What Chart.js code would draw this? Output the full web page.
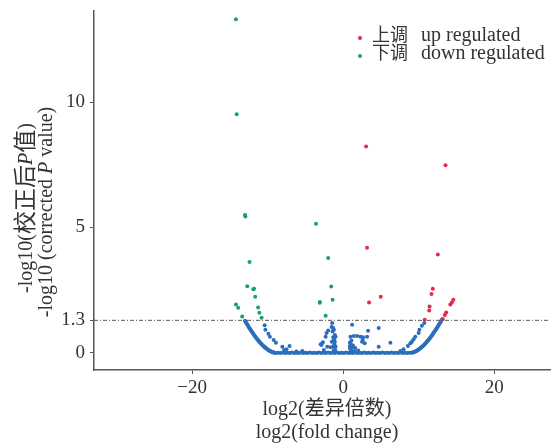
<!DOCTYPE html>
<html>
<head>
<meta charset="utf-8">
<script src="https://cdn.jsdelivr.net/npm/chart.js@4.4.0/dist/chart.umd.min.js"></script>
<style>
  html, body { margin: 0; padding: 0; background: #fff; }
  canvas { display: block; }
</style>
</head>
<body>
<canvas id="volcano" width="554" height="447"></canvas>
<script>
// Volcano plot data
const xTicks = [-20, 0, 20];
const yTicks = [0, 1.3, 5, 10];
const cutoff = 1.3;

// up regulated (red)
const upX = [3.04, 13.56, 3.17, 12.54, 3.43, 4.98, 11.88, 11.7, 11.45, 11.4, 14.6, 14.4, 14.2, 13.65, 13.47, 13.2, 10.8];
const upY = [8.23, 7.48, 4.19, 3.92, 2.01, 2.24, 2.56, 2.35, 1.85, 1.69, 2.12, 2.01, 1.93, 1.61, 1.51, 1.35, 1.32];

// down regulated (green)
const downX = [-14.2, -14.1, -13.0, -12.95, -12.4, -12.7, -11.9, -11.8, -11.65, -14.2, -13.9, -11.26, -11.1, -10.8, -13.37,
               -3.6, -1.98, -1.58, -3.08, -3.1, -1.4, -2.32];
const downY = [13.3, 9.51, 5.5, 5.44, 3.62, 2.66, 2.54, 2.56, 2.24, 1.93, 1.80, 1.81, 1.60, 1.40, 1.45,
               5.15, 3.78, 2.65, 2.03, 2.0, 2.12, 1.48];

// not significant (blue): left edge of the U
const leftX = [-13.0, -12.9, -12.8, -12.7, -12.6, -12.5, -12.4, -12.3, -12.2, -12.1, -12.0, -11.9, -11.8, -11.7, -11.6,
               -11.5, -11.4, -11.3, -11.2, -11.1, -11.0, -10.9, -10.8, -10.7, -10.6, -10.5, -10.4, -10.3, -10.2, -10.1,
               -10.0, -9.9, -9.8, -9.7, -9.6, -9.5, -9.4, -9.3, -9.2, -9.1];
const leftY = [1.28, 1.23, 1.18, 1.13, 1.08, 1.03, 0.98, 0.94, 0.89, 0.85, 0.80, 0.76, 0.72, 0.68, 0.64,
               0.60, 0.56, 0.52, 0.49, 0.45, 0.42, 0.38, 0.35, 0.32, 0.29, 0.26, 0.24, 0.21, 0.19, 0.16,
               0.14, 0.12, 0.10, 0.08, 0.07, 0.05, 0.04, 0.03, 0.02, 0.01];

// right edge of the U
const rightX = [9.1, 9.2, 9.3, 9.4, 9.5, 9.6, 9.7, 9.8, 9.9, 10.0, 10.1, 10.2, 10.3, 10.4, 10.5,
                10.6, 10.7, 10.8, 10.9, 11.0, 11.1, 11.2, 11.3, 11.4, 11.5, 11.6, 11.7, 11.8, 11.9, 12.0,
                12.1, 12.2, 12.3, 12.4, 12.5, 12.6, 12.7, 12.8, 12.9, 13.0, 13.1];
const rightY = [0.01, 0.02, 0.03, 0.04, 0.05, 0.07, 0.08, 0.10, 0.12, 0.14, 0.16, 0.19, 0.21, 0.24, 0.26,
                0.29, 0.32, 0.35, 0.38, 0.42, 0.45, 0.49, 0.52, 0.56, 0.60, 0.64, 0.68, 0.72, 0.76, 0.80,
                0.85, 0.89, 0.94, 0.98, 1.03, 1.08, 1.13, 1.18, 1.23, 1.28, 1.33];

// flat bottom of the U
const baseX = [-8.9, -8.6, -8.3, -8.0, -7.7, -7.4, -7.1, -6.8, -6.5, -6.2, -5.9, -5.6, -5.3, -5.0, -4.7,
               -4.4, -4.1, -3.8, -3.5, -3.2, -2.9, -2.6, -2.3, -2.0, -1.7, -1.4, -1.1, -0.8, -0.5, -0.2,
               0.1, 0.4, 0.7, 1.0, 1.3, 1.6, 1.9, 2.2, 2.5, 2.8, 3.1, 3.4, 3.7, 4.0, 4.3,
               4.6, 4.9, 5.2, 5.5, 5.8, 6.1, 6.4, 6.7, 7.0, 7.3, 7.6, 7.9, 8.2, 8.5, 8.8];
const baseY = [0.0, 0.01, 0.0, 0.02, 0.0, 0.01, 0.0, 0.02, 0.0, 0.01, 0.0, 0.02, 0.0, 0.01, 0.0,
               0.02, 0.0, 0.01, 0.0, 0.02, 0.0, 0.01, 0.0, 0.02, 0.0, 0.01, 0.0, 0.02, 0.0, 0.01,
               0.0, 0.02, 0.0, 0.01, 0.0, 0.02, 0.0, 0.01, 0.0, 0.02, 0.0, 0.01, 0.0, 0.02, 0.0,
               0.01, 0.0, 0.02, 0.0, 0.01, 0.0, 0.02, 0.0, 0.01, 0.0, 0.02, 0.0, 0.01, 0.0, 0.01];

// scattered points inside the U
const scatterX = [-10.4, -10.3, -9.9, -9.7, -9.2, -8.9, -8.05, -7.1, -7.5, -7.8, -6.2, -5.4,
                  -1.45, -1.53, -1.32, -1.23, -1.98, -2.2, -2.32, -1.1, -1.0, -1.32, -2.68, -2.98, -2.85, -1.1,
                  -2.1, -1.32, -1.66, -2.55, -1.0, -1.05, -1.2, -1.15, -1.4, -1.25, -1.5,
                  1.19, 0.97, 1.41, 1.85, 2.3, 2.64, 2.6, 2.5, 2.86, 3.3, 3.17, 4.71, 4.71, 6.26,
                  0.88, 0.88, 1.0, 1.1, 1.3, 1.6, 2.0, 1.2, 0.95, 1.5, 0.9, 1.05, 1.25,
                  10.75, 10.43, 10.1, 10.0, 9.55, 9.33, 9.1, 8.9, 8.58, 8.0, 7.57];
const scatterY = [1.1, 0.92, 0.76, 0.65, 0.52, 0.41, 0.25, 0.28, 0.15, 0.12, 0.06, 0.08,
                  1.19, 1.03, 0.99, 0.92, 0.89, 0.79, 0.65, 0.72, 0.65, 0.63, 0.43, 0.35, 0.32, 0.45,
                  0.25, 0.25, 0.23, 0.12, 0.25, 0.12, 0.55, 0.35, 0.85, 0.1, 0.45,
                  1.12, 0.65, 0.68, 0.68, 0.65, 0.63, 0.52, 0.45, 0.39, 0.88, 0.65, 0.99, 0.25, 0.41,
                  0.41, 0.28, 0.15, 0.5, 0.3, 0.2, 0.1, 0.08, 0.05, 0.05, 0.2, 0.35, 0.22,
                  1.19, 1.08, 0.92, 0.79, 0.65, 0.55, 0.45, 0.39, 0.28, 0.15, 0.08];

const SERIF = '"Liberation Serif", "Noto Sans CJK SC", serif';
const TEXT = '#333';
const RED = '#e8284a';
const GREEN = '#1b9e77';
const BLUE = '#2a6ebb';

function toPoints(xs, ys) {
    return xs.map((x, i) => ({ x: x, y: ys[i] }));
}

const nsPoints = [].concat(
    toPoints(leftX, leftY),
    toPoints(rightX, rightY),
    toPoints(baseX, baseY),
    toPoints(scatterX, scatterY)
);

// draw a line of text made of runs [text, italic, size], centred on x
function drawRuns(ctx, runs, x, y) {
    const fontOf = r => (r[1] ? 'italic ' : '') + r[2] + 'px ' + SERIF;
    let total = 0;
    runs.forEach(r => {
        ctx.font = fontOf(r);
        total += ctx.measureText(r[0]).width;
    });
    let cx = x - total / 2;
    runs.forEach(r => {
        ctx.font = fontOf(r);
        ctx.fillText(r[0], cx, y);
        cx += ctx.measureText(r[0]).width;
    });
}

const decorations = {
    id: 'decorations',
    beforeDatasetsDraw(chart) {
        const ctx = chart.ctx;
        const area = chart.chartArea;
        const y = chart.scales.y.getPixelForValue(cutoff);
        ctx.save();
        ctx.strokeStyle = '#555';
        ctx.lineWidth = 1;
        ctx.setLineDash([4, 2, 1, 2]);
        ctx.beginPath();
        ctx.moveTo(area.left, y);
        ctx.lineTo(area.right, y);
        ctx.stroke();
        ctx.restore();
    },
    afterDraw(chart) {
        const ctx = chart.ctx;
        ctx.save();
        ctx.fillStyle = TEXT;
        ctx.textAlign = 'left';
        ctx.textBaseline = 'middle';

        // x axis title
        drawRuns(ctx, [['log2(差异倍数)', false, 20]], 327, 410);
        drawRuns(ctx, [['log2(fold change)', false, 20]], 327, 433);

        // y axis title (rotated)
        ctx.save();
        ctx.translate(27, 208);
        ctx.rotate(-Math.PI / 2);
        drawRuns(ctx, [['-log10(', false, 20], ['校正后', false, 23], ['P', true, 20], ['值', false, 23], [')', false, 20]], 0, 0);
        ctx.restore();
        ctx.save();
        ctx.translate(47, 212);
        ctx.rotate(-Math.PI / 2);
        drawRuns(ctx, [['-log10 (corrected ', false, 20], ['P', true, 20], [' value)', false, 20]], 0, 0);
        ctx.restore();

        // legend
        const items = [['上调', 'up regulated', RED, 38], ['下调', 'down regulated', GREEN, 56]];
        items.forEach(it => {
            ctx.fillStyle = it[2];
            ctx.beginPath();
            ctx.arc(360, it[3], 2, 0, Math.PI * 2);
            ctx.fill();
            ctx.fillStyle = TEXT;
            ctx.font = '18px ' + SERIF;
            ctx.fillText(it[0], 372, it[3] - 2);
            ctx.font = '20px ' + SERIF;
            ctx.fillText(it[1], 421, it[3] - 2);
        });
        ctx.restore();
    }
};

const ctx = document.getElementById('volcano').getContext('2d');
new Chart(ctx, {
    type: 'scatter',
    data: {
        datasets: [
            { label: 'up regulated', data: toPoints(upX, upY), backgroundColor: RED, pointRadius: 2, borderWidth: 0 },
            { label: 'down regulated', data: toPoints(downX, downY), backgroundColor: GREEN, pointRadius: 2, borderWidth: 0 },
            { label: 'not significant', data: nsPoints, backgroundColor: BLUE, pointRadius: 2, borderWidth: 0 }
        ]
    },
    options: {
        responsive: false,
        animation: false,
        layout: { padding: { top: 11, right: 1, left: 0, bottom: 0 } },
        plugins: {
            legend: { display: false },
            tooltip: { enabled: false }
        },
        scales: {
            x: {
                type: 'linear',
                min: -33,
                max: 27.4,
                afterBuildTicks: s => { s.ticks = xTicks.map(v => ({ value: v })); },
                afterFit: s => { s.height = 77; s.paddingLeft = 0; s.paddingRight = 0; },
                grid: { drawOnChartArea: false, tickLength: 4, color: '#555' },
                border: { color: '#555', width: 1.5 },
                ticks: {
                    autoSkip: false,
                    maxRotation: 0,
                    padding: 3,
                    color: TEXT,
                    font: { family: SERIF, size: 19 },
                    callback: v => String(v).replace('-', '\u2212')
                }
            },
            y: {
                type: 'linear',
                min: -0.68,
                max: 13.63,
                afterBuildTicks: s => { s.ticks = yTicks.map(v => ({ value: v })); },
                afterFit: s => { s.width = 94; s.paddingTop = 0; s.paddingBottom = 0; },
                grid: { drawOnChartArea: false, tickLength: 4, color: '#555' },
                border: { color: '#555', width: 1.5 },
                ticks: {
                    autoSkip: false,
                    padding: 5,
                    color: TEXT,
                    font: { family: SERIF, size: 19 },
                    callback: v => String(v)
                }
            }
        }
    },
    plugins: [decorations]
});
</script>
</body>
</html>
